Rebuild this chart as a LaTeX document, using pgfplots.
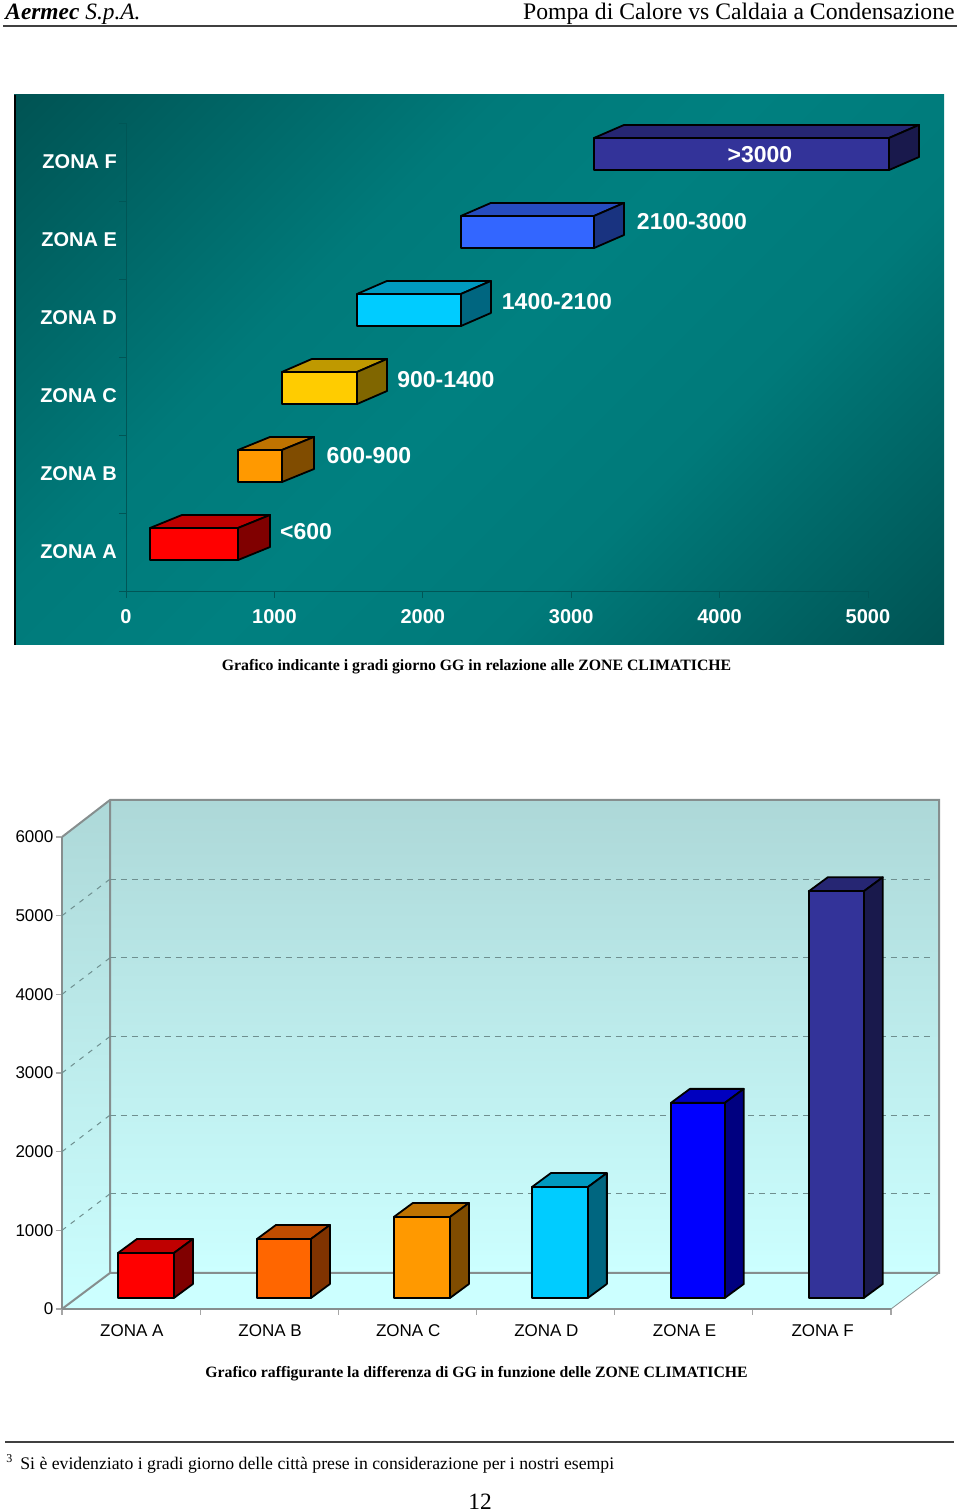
\documentclass[border=0pt]{standalone}
\usepackage{fontspec}
\setmainfont{Liberation Serif}
\newfontfamily\arial{Liberation Sans}
\usepackage{pgfplots}
\pgfplotsset{compat=1.18}

\definecolor{tealdark}{HTML}{005353}
\definecolor{tealmid}{HTML}{008080}
\definecolor{tealside}{HTML}{007A7A}
\definecolor{tealaxis}{HTML}{005656}
\definecolor{wallgrey}{HTML}{868E8E}
\definecolor{griddash}{HTML}{6F8F8F}
\definecolor{walltop}{HTML}{ADD8D8}
\definecolor{wallbottom}{HTML}{CCFFFF}
\definecolor{cRed}{HTML}{FF0000}
\definecolor{cOrange}{HTML}{FF9900}
\definecolor{cDeep}{HTML}{FF6600}
\definecolor{cYellow}{HTML}{FFCC00}
\definecolor{cCyan}{HTML}{00CCFF}
\definecolor{cSky}{HTML}{3366FF}
\definecolor{cBlue}{HTML}{0000FF}
\definecolor{cIndigo}{HTML}{333399}

\pgfdeclarehorizontalshading{panel}{100bp}{
  color(0bp)=(tealdark); color(14.6bp)=(tealdark); color(38bp)=(tealside);
  color(50bp)=(tealmid); color(64bp)=(tealside);
  color(85.4bp)=(tealdark); color(100bp)=(tealdark)}

% one 3D box: x0, x1, y0, y1, colour, depth x, depth y
\newcommand{\boxbar}[7]{%
  \pgfmathsetmacro{\xb}{#2+#6}\pgfmathsetmacro{\xa}{#1+#6}%
  \pgfmathsetmacro{\yb}{#4+#7}\pgfmathsetmacro{\ya}{#3+#7}%
  \addplot[fill=#5!75!black,draw=black,line width=0.9pt,line join=round,mark=none,forget plot]
    coordinates {(#1,#4) (\xa,\yb) (\xb,\yb) (#2,#4)} --cycle;
  \addplot[fill=#5!50!black,draw=black,line width=0.9pt,line join=round,mark=none,forget plot]
    coordinates {(#2,#3) (\xb,\ya) (\xb,\yb) (#2,#4)} --cycle;
  \addplot[fill=#5,draw=black,line width=0.9pt,line join=round,mark=none,forget plot]
    coordinates {(#1,#3) (#2,#3) (#2,#4) (#1,#4)} --cycle;
}

\begin{document}
\begin{tikzpicture}
\path[use as bounding box] (0,0) rectangle (480pt,756pt);

% backgrounds and page text, in reference pixels
\begin{scope}[x=0.5pt,y=-0.5pt,shift={(0pt,756pt)}]
  \shade[shading=panel,shading angle=-45] (14,95) rectangle (944,645);
  \draw[black,line width=1pt] (14.5,95) -- (14.5,645);

  \shade[top color=walltop,bottom color=wallbottom] (110,800) rectangle (939,1273);
  \shade[top color=walltop,bottom color=wallbottom]
    (62,837) -- (110,800) -- (110,1273) -- (62,1309) -- cycle;
  \fill[wallbottom] (62,1309) -- (110,1273) -- (939,1273) -- (891,1309) -- cycle;
  \draw[wallgrey,line width=1pt] (62,837) -- (110,800) -- (939,800) -- (939,1273) -- (110,1273) -- (110,800);
  \draw[wallgrey,line width=1pt] (62,1309) -- (110,1273);
  \draw[wallgrey,line width=0.4pt] (891,1309) -- (939,1273);

  \draw[black!75,line width=1pt] (3,26.5) -- (957,26.5);
  \draw[black!75,line width=1pt] (5,1442) -- (954,1442);
  \node[anchor=base west,inner sep=0,font=\fontsize{11.7}{14}\selectfont] at (5,20)
    {\textbf{\textit{Aermec}} \textit{S.p.A.}};
  \node[anchor=base east,inner sep=0,font=\fontsize{11.84}{14}\selectfont] at (955,20)
    {Pompa di Calore vs Caldaia a Condensazione};
  \node[anchor=base,inner sep=0,font=\fontsize{7.9}{10}\selectfont\bfseries] at (476.5,671)
    {Grafico indicante i gradi giorno GG in relazione alle ZONE CLIMATICHE};
  \node[anchor=base,inner sep=0,font=\fontsize{7.88}{10}\selectfont\bfseries] at (476.5,1378)
    {Grafico raffigurante la differenza di GG in funzione delle ZONE CLIMATICHE};
  \node[anchor=base west,inner sep=0,font=\fontsize{6}{7}\selectfont] at (6,1463) {3};
  \node[anchor=base west,inner sep=0,font=\fontsize{8.85}{11}\selectfont] at (20,1470)
    {Si è evidenziato i gradi giorno delle città prese in considerazione per i nostri esempi};
  \node[anchor=base,inner sep=0,font=\fontsize{11.7}{14}\selectfont] at (480,1509) {12};
\end{scope}

% climatic zones, stacked ranges
\begin{axis}[
  at={(63pt,460.5pt)},anchor=south west,
  scale only axis,width=371pt,height=234pt,
  xmin=0,xmax=5000,ymin=0,ymax=6,
  clip=false,
  axis x line*=bottom,axis y line*=left,
  axis line style={tealaxis,line width=0.4pt},
  tick style={tealaxis,line width=0.4pt},
  tick align=outside,major tick length=3.5pt,
  xtick={0,1000,2000,3000,4000,5000},
  ytick={0,1,2,3,4,5,6},yticklabels={},
  extra y ticks={0.5,1.5,2.5,3.5,4.5,5.5},
  extra y tick labels={ZONA A,ZONA B,ZONA C,ZONA D,ZONA E,ZONA F},
  extra y tick style={major tick length=0pt,yticklabel style={xshift=-1pt}},
  /pgf/number format/assume math mode=true,
  /pgf/number format/1000 sep={},
  ticklabel style={text=white,font=\arial\bfseries\fontsize{10}{12}\selectfont},
  xticklabel style={yshift=-2pt},
]
\boxbar{162}{755}{0.397}{0.808}{cRed}{216}{0.167}
\boxbar{755}{1051}{1.397}{1.808}{cOrange}{216}{0.167}
\boxbar{1051}{1557}{2.397}{2.808}{cYellow}{202}{0.167}
\boxbar{1557}{2257}{3.397}{3.808}{cCyan}{202}{0.167}
\boxbar{2257}{3154}{4.397}{4.808}{cSky}{202}{0.167}
\boxbar{3154}{5142}{5.397}{5.808}{cIndigo}{202}{0.167}
\begin{scope}[every node/.style={text=white,font=\arial\bfseries\fontsize{11.5}{14}\selectfont}]
\node at (axis cs:1213,0.756) {<600};
\node at (axis cs:1637,1.731) {600-900};
\node at (axis cs:2156,2.705) {900-1400};
\node at (axis cs:2904,3.705) {1400-2100};
\node at (axis cs:3814,4.731) {2100-3000};
\node at (axis cs:4272,5.590) {>3000};
\end{scope}
\end{axis}

% difference of degree days per zone
\begin{axis}[
  at={(31pt,101.5pt)},anchor=south west,
  scale only axis,width=414.5pt,height=236pt,
  xmin=0,xmax=6,ymin=0,ymax=6000,
  clip=false,
  axis x line*=bottom,axis y line*=left,
  axis line style={wallgrey,line width=1pt},
  tick style={black!35,line width=0.6pt},
  tick align=outside,major tick length=3pt,
  ytick={0,1000,2000,3000,4000,5000,6000},
  xtick={0,1,2,3,4,5,6},xticklabels={},
  extra x ticks={0.5,1.5,2.5,3.5,4.5,5.5},
  extra x tick labels={ZONA A,ZONA B,ZONA C,ZONA D,ZONA E,ZONA F},
  extra x tick style={major tick length=0pt,xticklabel style={yshift=-4.5pt,xshift=0.4pt}},
  /pgf/number format/assume math mode=true,
  /pgf/number format/1000 sep={},
  ticklabel style={text=black,font=\arial\fontsize{8.5}{10}\selectfont},
  yticklabel style={xshift=2.2pt},
]
% dashed grid on the back wall and on the side wall
\addplot[griddash,line width=0.5pt,dash pattern=on 3pt off 2.5pt,forget plot] coordinates {(0.347,1464) (6.317,1464)};
\addplot[griddash,line width=0.5pt,dash pattern=on 3pt off 2.5pt,forget plot] coordinates {(0.347,2464) (6.317,2464)};
\addplot[griddash,line width=0.5pt,dash pattern=on 3pt off 2.5pt,forget plot] coordinates {(0.347,3464) (6.317,3464)};
\addplot[griddash,line width=0.5pt,dash pattern=on 3pt off 2.5pt,forget plot] coordinates {(0.347,4464) (6.317,4464)};
\addplot[griddash,line width=0.5pt,dash pattern=on 3pt off 2.5pt,forget plot] coordinates {(0.347,5464) (6.317,5464)};
\addplot[griddash,line width=0.5pt,dash pattern=on 2.5pt off 3pt,forget plot] coordinates {(0,1000) (0.347,1464)};
\addplot[griddash,line width=0.5pt,dash pattern=on 2.5pt off 3pt,forget plot] coordinates {(0,2000) (0.347,2464)};
\addplot[griddash,line width=0.5pt,dash pattern=on 2.5pt off 3pt,forget plot] coordinates {(0,3000) (0.347,3464)};
\addplot[griddash,line width=0.5pt,dash pattern=on 2.5pt off 3pt,forget plot] coordinates {(0,4000) (0.347,4464)};
\addplot[griddash,line width=0.5pt,dash pattern=on 2.5pt off 3pt,forget plot] coordinates {(0,5000) (0.347,5464)};

\boxbar{0.405}{0.810}{140}{712}{cRed}{0.1375}{178}
\boxbar{1.411}{1.802}{140}{890}{cDeep}{0.1375}{178}
\boxbar{2.402}{2.808}{140}{1170}{cOrange}{0.1375}{178}
\boxbar{3.401}{3.806}{140}{1550}{cCyan}{0.1375}{178}
\boxbar{4.407}{4.797}{140}{2620}{cBlue}{0.1375}{178}
\boxbar{5.405}{5.803}{140}{5310}{cIndigo}{0.1375}{178}
\end{axis}
\end{tikzpicture}
\end{document}
